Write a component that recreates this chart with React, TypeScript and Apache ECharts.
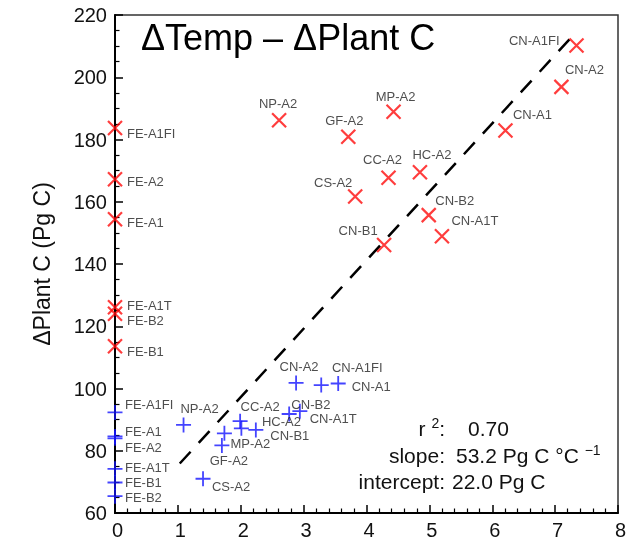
import React, { useEffect, useRef } from "react";
import * as echarts from "echarts";

// ---- data ----
const redNames = ["FE-A1FI", "FE-A2", "FE-A1", "FE-A1T", "FE-B2", "FE-B1", "NP-A2", "GF-A2", "MP-A2", "CC-A2", "HC-A2", "CS-A2", "CN-B1", "CN-B2", "CN-A1T", "CN-A1", "CN-A2", "CN-A1FI"];
const redX = [0, 0, 0, 0, 0, 0, 2.61, 3.71, 4.43, 4.35, 4.85, 3.82, 4.28, 4.99, 5.2, 6.21, 7.1, 7.34];
const redY = [183.7, 167.2, 154.4, 126.1, 124.0, 113.6, 186.2, 180.9, 188.9, 167.7, 169.5, 161.7, 146.1, 155.7, 148.9, 182.9, 196.9, 210.2];

const blueNames = ["FE-A1FI", "FE-A1", "FE-A2", "FE-A1T", "FE-B1", "FE-B2", "NP-A2", "CC-A2", "HC-A2", "CN-B1", "MP-A2", "GF-A2", "CS-A2", "CN-A2", "CN-A1FI", "CN-A1", "CN-B2", "CN-A1T"];
const blueX = [0, 0, 0, 0, 0, 0, 1.09, 1.99, 2.01, 2.24, 1.74, 1.7, 1.4, 2.88, 3.28, 3.55, 2.94, 2.77];
const blueY = [92.3, 84.6, 84.0, 74.2, 69.8, 65.4, 88.3, 89.5, 87.2, 86.7, 85.6, 81.7, 71.0, 101.8, 101.1, 101.6, 92.7, 91.8];

const fitX = [1.03, 7.32];
const fitY = [75.9, 214.2];

const xTicks = { min: 0, max: 8, step: 1 };
const yTicks = { min: 60, max: 220, step: 20 };

const titleText = "ΔTemp – ΔPlant C";
const yName = "ΔPlant C (Pg C)";
const r2Value = "0.70";
const slopeValue = "53.2 Pg C °C ";
const interceptValue = "22.0 Pg C";

// ---- label layout (offsets in px from marker centre) ----
const redLabelLayout: [number, number, string][] = [
  [12, 6, "left"], [12, 2, "left"], [12, 3, "left"], [12, -2, "left"], [12, 7, "left"], [12, 5, "left"],
  [-1, -17, "center"], [-4, -16, "center"], [2, -15, "center"], [-6, -18, "center"], [12, -18, "center"],
  [-22, -14, "center"], [-26, -15, "center"], [26, -15, "center"], [33, -16, "center"], [27, -16, "center"],
  [23, -17, "center"], [-17, -5, "right"],
];
const blueLabelLayout: [number, number, string][] = [
  [10, -8, "left"], [10, -5, "left"], [10, 9, "left"], [10, -1, "left"], [10, 0, "left"], [10, 1, "left"],
  [16, -16, "center"], [20, -15, "center"], [40, -7, "center"], [34, 6, "center"], [26, 10, "center"],
  [7, 15, "center"], [28, 8, "center"], [3, -16, "center"], [36, -18, "center"], [33, 3, "center"],
  [11, -7, "center"], [44, 4, "center"],
];

const FONT = "Liberation Sans, Arial, Helvetica, sans-serif";

function makePoints(xs: number[], ys: number[], names: string[], layout: [number, number, string][]) {
  return xs.map((x, i) => ({
    value: [x, ys[i]],
    name: names[i],
    label: {
      show: true,
      formatter: names[i],
      position: "inside",
      offset: [layout[i][0], layout[i][1]],
      align: layout[i][2],
      verticalAlign: "middle",
      fontSize: 13,
      color: "#222",
      fontFamily: FONT,
    },
  }));
}

export default function App() {
  const ref = useRef<HTMLDivElement>(null);
  useEffect(() => {
    if (!ref.current) return;
    const chart = echarts.init(ref.current, undefined, { renderer: "svg" });
    const axisCommon = {
      axisLine: { show: true, lineStyle: { color: "#000", width: 2 } },
      axisTick: { show: true, inside: true, length: 8, lineStyle: { color: "#000", width: 1.5 } },
      minorTick: { show: true, length: 4.5, lineStyle: { color: "#000", width: 1.2 } },
      splitLine: { show: false },
      axisLabel: { color: "#111", fontSize: 20, fontFamily: FONT },
    };
    const keyStyle = { fill: "#111", fontSize: 21, fontFamily: FONT };
    const supStyle = { fill: "#111", fontSize: 14, fontFamily: FONT, verticalAlign: "top", lineHeight: 13 };
    chart.setOption({
      animation: false,
      grid: { left: 115, top: 15, right: 17, bottom: 25, show: true, borderColor: "#333", borderWidth: 1.5, containLabel: false },
      xAxis: {
        type: "value",
        min: xTicks.min,
        max: xTicks.max,
        interval: xTicks.step,
        ...axisCommon,
        minorTick: { ...axisCommon.minorTick, splitNumber: 5 },
        axisLabel: { ...axisCommon.axisLabel, margin: 7, padding: [0, 0, 0, 5] },
      },
      yAxis: {
        type: "value",
        min: yTicks.min,
        max: yTicks.max,
        interval: yTicks.step,
        ...axisCommon,
        minorTick: { ...axisCommon.minorTick, splitNumber: 4 },
        axisLabel: { ...axisCommon.axisLabel, margin: 8 },
        name: yName,
        nameLocation: "middle",
        nameGap: 62,
        nameTextStyle: { fontSize: 23, color: "#111", fontFamily: FONT },
      },
      series: [
        {
          type: "line",
          data: fitX.map((x, i) => [x, fitY[i]]),
          symbol: "none",
          lineStyle: { color: "#000", width: 2.5, type: [16, 12] },
          silent: true,
          z: 1,
        },
        {
          type: "scatter",
          clip: false,
          symbol: "path://M0,0L10,10M10,0L0,10",
          symbolSize: 14,
          itemStyle: { color: "none", borderColor: "#ff0d0d", borderWidth: 2.2 },
          data: makePoints(redX, redY, redNames, redLabelLayout),
          silent: true,
          z: 3,
        },
        {
          type: "scatter",
          clip: false,
          symbol: "path://M5,0L5,10M0,5L10,5",
          symbolSize: 15,
          itemStyle: { color: "none", borderColor: "#1515ff", borderWidth: 1.8 },
          data: makePoints(blueX, blueY, blueNames, blueLabelLayout),
          silent: true,
          z: 3,
        },
      ],
      graphic: [
        { type: "text", left: 141, top: 19, style: { text: titleText, fill: "#000", fontSize: 36, fontFamily: FONT } },
        {
          type: "text", x: 445, y: 428,
          style: {
            text: "{m|r }{s|2}{m|:}", align: "right", verticalAlign: "middle",
            rich: { m: { ...keyStyle, lineHeight: 24 }, s: supStyle },
          },
        },
        { type: "text", x: 468, y: 428, style: { ...keyStyle, text: r2Value, align: "left", verticalAlign: "middle" } },
        { type: "text", x: 445, y: 455, style: { ...keyStyle, text: "slope:", align: "right", verticalAlign: "middle" } },
        {
          type: "text", x: 456, y: 455,
          style: {
            text: "{m|" + slopeValue + "}{s|−1}", align: "left", verticalAlign: "middle",
            rich: { m: { ...keyStyle, lineHeight: 24 }, s: supStyle },
          },
        },
        { type: "text", x: 445, y: 481, style: { ...keyStyle, text: "intercept:", align: "right", verticalAlign: "middle" } },
        { type: "text", x: 452, y: 481, style: { ...keyStyle, text: interceptValue, align: "left", verticalAlign: "middle" } },
      ],
    });
    return () => chart.dispose();
  }, []);
  return <div ref={ref} style={{ position: "fixed", left: 0, top: 0, width: 635, height: 540 }} />;
}
